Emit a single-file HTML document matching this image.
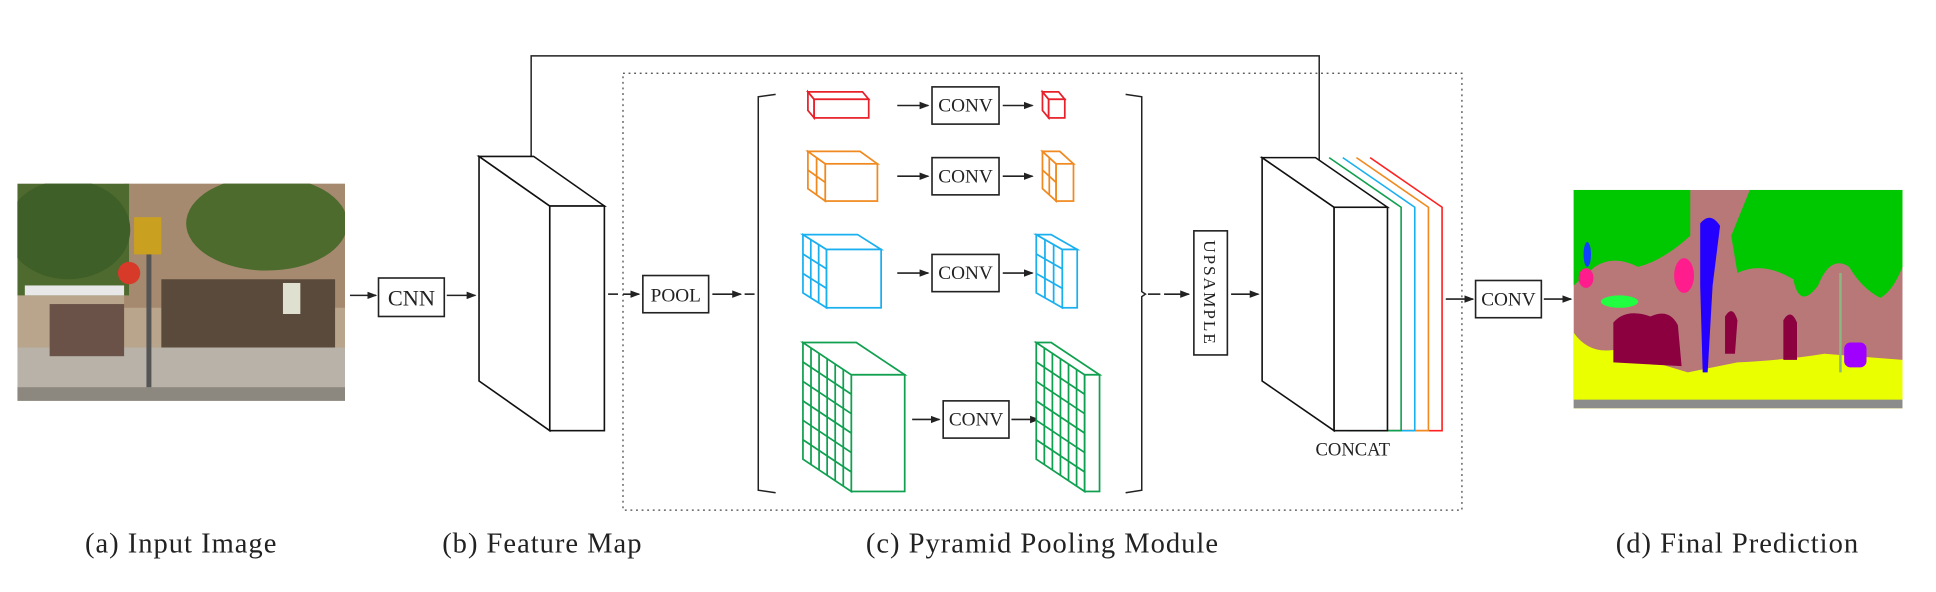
<!DOCTYPE html>
<html><head><meta charset="utf-8"><style>
html,body{margin:0;padding:0;background:#fff;}
svg{display:block;}
text{font-family:"Liberation Serif",serif;fill:#222;}
</style></head><body>
<svg id="s" width="1936" height="592" viewBox="0 0 1560 477" xmlns="http://www.w3.org/2000/svg">
<defs>
<marker id="a" markerWidth="8" markerHeight="8" refX="7" refY="4" orient="auto" markerUnits="userSpaceOnUse">
<path d="M0,1 L8,4 L0,7 z" fill="#222"/></marker>
<clipPath id="pc"><rect x="1268" y="153" width="265" height="176"/></clipPath>
<clipPath id="ic"><rect x="14" y="148" width="264" height="175"/></clipPath>
</defs>
<rect width="1560" height="477" fill="#fff"/>

<!-- input photo -->
<g clip-path="url(#ic)">
<rect x="14" y="148" width="264" height="175" fill="#b9a48c"/>
<rect x="100" y="148" width="178" height="100" fill="#a58a70"/>
<rect x="130" y="225" width="140" height="60" fill="#5a4a3c"/>
<rect x="14" y="148" width="90" height="90" fill="#4e6a2e"/>
<ellipse cx="55" cy="185" rx="50" ry="40" fill="#3f5f28"/>
<ellipse cx="215" cy="180" rx="65" ry="38" fill="#4c6b2c"/>
<rect x="14" y="280" width="264" height="43" fill="#b8b2a8"/>
<rect x="14" y="312" width="264" height="11" fill="#8c8880"/>
<rect x="20" y="230" width="80" height="8" fill="#e8e8e8"/>
<rect x="40" y="245" width="60" height="42" fill="#6a5248"/>
<circle cx="104" cy="220" r="9" fill="#d83a2a"/>
<rect x="118" y="190" width="4" height="122" fill="#555"/>
<rect x="108" y="175" width="22" height="30" fill="#c9a020"/>
<rect x="228" y="228" width="14" height="25" fill="#e0e0d0"/>
</g>

<!-- CNN -->
<line x1="282" y1="238" x2="303" y2="238" stroke="#222" stroke-width="1.3" marker-end="url(#a)"/>
<rect x="305" y="224" width="53" height="31" fill="#fff" stroke="#222" stroke-width="1.3"/>
<text x="331.5" y="246" font-size="18" text-anchor="middle">CNN</text>
<line x1="360" y1="238" x2="383" y2="238" stroke="#222" stroke-width="1.3" marker-end="url(#a)"/>

<!-- skip connection -->
<polyline points="428,143 428,45 1063,45 1063,142" fill="none" stroke="#222" stroke-width="1.2" marker-end="url(#a)"/>

<!-- dotted module box -->
<rect x="502" y="59" width="676" height="352" fill="none" stroke="#444" stroke-width="1" stroke-dasharray="1.5,3"/>

<!-- POOL -->
<line x1="490" y1="237" x2="498" y2="237" stroke="#222" stroke-width="1.3"/>
<line x1="502" y1="237" x2="515" y2="237" stroke="#222" stroke-width="1.3" marker-end="url(#a)"/>
<rect x="518" y="222" width="53" height="30" fill="#fff" stroke="#222" stroke-width="1.3"/>
<text x="544.5" y="243" font-size="15.5" text-anchor="middle">POOL</text>
<line x1="574" y1="237" x2="597" y2="237" stroke="#222" stroke-width="1.3" marker-end="url(#a)"/>
<line x1="600" y1="237" x2="608" y2="237" stroke="#222" stroke-width="1.3"/>

<!-- brackets -->
<polyline points="625,76 611,78 611,395 625,397" fill="none" stroke="#222" stroke-width="1.2"/>
<polyline points="907,76 920,78 920,235 923,237 920,239 920,395 907,397" fill="none" stroke="#222" stroke-width="1.2"/>

<!-- CONV boxes and arrows -->
<g stroke="#222" stroke-width="1.3" fill="none">
<line x1="723" y1="85" x2="748" y2="85" marker-end="url(#a)"/>
<line x1="808" y1="85" x2="832" y2="85" marker-end="url(#a)"/>
<line x1="723" y1="142" x2="748" y2="142" marker-end="url(#a)"/>
<line x1="808" y1="142" x2="832" y2="142" marker-end="url(#a)"/>
<line x1="723" y1="220" x2="748" y2="220" marker-end="url(#a)"/>
<line x1="808" y1="220" x2="832" y2="220" marker-end="url(#a)"/>
<line x1="735" y1="338" x2="757" y2="338" marker-end="url(#a)"/>
<line x1="815" y1="338" x2="837" y2="338" marker-end="url(#a)"/>
</g>
<g fill="#fff" stroke="#222" stroke-width="1.3">
<rect x="751" y="70" width="54" height="30"/>
<rect x="751" y="127" width="54" height="30"/>
<rect x="751" y="205" width="54" height="30"/>
<rect x="760" y="323" width="53" height="30"/>
<rect x="1189" y="226" width="53" height="30"/>
</g>
<g font-size="15.5" text-anchor="middle">
<text x="778" y="90">CONV</text>
<text x="778" y="147">CONV</text>
<text x="778" y="225">CONV</text>
<text x="786.5" y="343">CONV</text>
<text x="1215.5" y="246">CONV</text>
</g>

<!-- upsample -->
<line x1="925" y1="237" x2="935" y2="237" stroke="#222" stroke-width="1.3"/>
<line x1="938" y1="237" x2="958" y2="237" stroke="#222" stroke-width="1.3" marker-end="url(#a)"/>
<rect x="962" y="186" width="27" height="100" fill="#fff" stroke="#222" stroke-width="1.3"/>
<text transform="translate(970,236) rotate(90)" font-size="14" text-anchor="middle" letter-spacing="1.5">UPSAMPLE</text>
<line x1="992" y1="237" x2="1014" y2="237" stroke="#222" stroke-width="1.3" marker-end="url(#a)"/>

<g id="cubes"></g>

<text x="1090" y="367" font-size="15" text-anchor="middle">CONCAT</text>

<!-- final conv arrows -->
<line x1="1165" y1="241" x2="1187" y2="241" stroke="#222" stroke-width="1.3" marker-end="url(#a)"/>
<line x1="1244" y1="241" x2="1266" y2="241" stroke="#222" stroke-width="1.3" marker-end="url(#a)"/>

<!-- prediction -->
<g clip-path="url(#pc)">
<rect x="1268" y="153" width="265" height="176" fill="#b87878"/>
<path d="M1268,153 H1362 V190 Q1340,210 1320,215 Q1300,205 1285,215 L1268,230 Z" fill="#00c800"/>
<path d="M1410,153 H1533 V215 Q1525,235 1515,240 Q1500,232 1490,215 Q1475,205 1465,230 Q1450,250 1445,225 Q1420,210 1400,220 L1395,190 Z" fill="#00c800"/>
<path d="M1268,268 Q1280,285 1300,282 L1360,300 L1400,292 Q1440,290 1470,285 L1533,290 V329 H1268 Z" fill="#eaff00"/>
<rect x="1268" y="322" width="265" height="7" fill="#8c8c8c"/>
<path d="M1300,260 Q1310,248 1330,255 Q1345,248 1352,262 L1355,295 L1300,292 Z" fill="#8c0040"/>
<path d="M1390,255 Q1396,245 1400,258 L1398,285 L1390,285 Z" fill="#8c0040"/>
<path d="M1437,258 Q1443,248 1448,260 L1448,290 L1437,290 Z" fill="#8c0040"/>
<path d="M1370,180 Q1378,170 1386,182 L1380,230 L1376,300 L1372,300 L1370,230 Z" fill="#2400ff"/>
<ellipse cx="1357" cy="222" rx="8" ry="14" fill="#ff1c8c"/>
<ellipse cx="1278" cy="224" rx="6" ry="8" fill="#ff1c8c"/>
<ellipse cx="1279" cy="205" rx="3" ry="10" fill="#1040ff"/>
<ellipse cx="1305" cy="243" rx="15" ry="5" fill="#20ff40"/>
<rect x="1486" y="276" width="18" height="20" rx="5" fill="#a000ff"/>
<line x1="1483" y1="220" x2="1483" y2="300" stroke="#8ab880" stroke-width="2"/>
</g>

<!-- captions -->
<g font-size="23" text-anchor="middle" letter-spacing="0.8">
<text x="146" y="445">(a) Input Image</text>
<text x="437" y="445">(b) Feature Map</text>
<text x="840" y="445">(c) Pyramid Pooling Module</text>
<text x="1400" y="445">(d) Final Prediction</text>
</g>
</svg>
<script>
(function(){
var g=document.getElementById('cubes'),NS='http://www.w3.org/2000/svg';
function el(t,a){var e=document.createElementNS(NS,t);for(var k in a)e.setAttribute(k,a[k]);g.appendChild(e);return e;}
function cube(bx,by,dx,dy,w,h,n,c,sw){
 sw=sw||1.4;
 var s={fill:'#fff',stroke:c,'stroke-width':sw,'stroke-linejoin':'miter'};
 el('polygon',Object.assign({points:[bx,by,bx+dx,by+dy,bx+dx,by+dy+h,bx,by+h].join(' ')},s));
 el('polygon',Object.assign({points:[bx,by,bx+w,by,bx+dx+w,by+dy,bx+dx,by+dy].join(' ')},s));
 el('rect',Object.assign({x:bx+dx,y:by+dy,width:w,height:h},s));
 for(var i=1;i<n;i++){var t=i/n;
  el('line',{x1:bx+dx*t,y1:by+dy*t,x2:bx+dx*t,y2:by+dy*t+h,stroke:c,'stroke-width':sw});
  el('line',{x1:bx,y1:by+h*t,x2:bx+dx,y2:by+dy+h*t,stroke:c,'stroke-width':sw});
 }
}
cube(386,126,57,40,44,181,1,'#111',1.3);
cube(651,74,5,6,44,15,1,'#e8202a');
cube(840,74,5,6,13,15,1,'#e8202a');
cube(651,122,14,10,42,30,2,'#f08a20');
cube(840,122,11,10,14,30,2,'#f08a20');
cube(647,189,19,12,44,47,3,'#1ab0f0');
cube(835,189,21,12,12,47,3,'#1ab0f0');
cube(647,276,39,26,43,94,6,'#10a050');
cube(835,276,39,26,12,94,6,'#10a050');
var cols=['#ff2020','#f08a20','#1ab0f0','#10a050'];
for(var k=4;k>=1;k--){var o=k*11,c=cols[4-k];
 el('polyline',{points:[1060+o,127,1118+o,167,1118+o,347,1075+o,347].join(' '),fill:'none',stroke:c,'stroke-width':1.3});
}
cube(1017,127,58,40,43,180,1,'#111',1.3);
})();
</script>
</body></html>
